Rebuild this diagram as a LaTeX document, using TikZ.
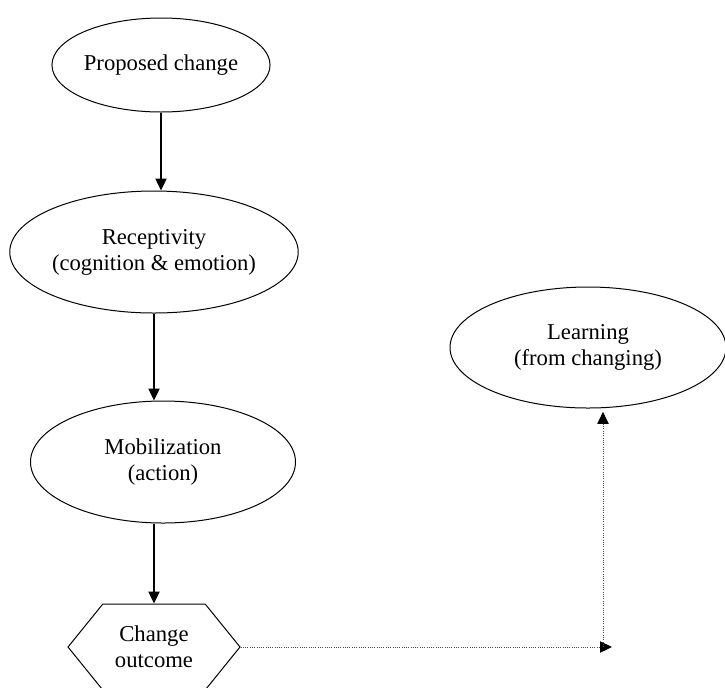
\documentclass[tikz,border=0pt]{standalone}
\usepackage{fontspec}
\setmainfont{Liberation Serif}
\usepackage{tikz}
\usetikzlibrary{positioning,arrows.meta,shapes.geometric,shapes.symbols}

\begin{document}
\begin{tikzpicture}[x=0.75pt,y=-0.75pt,
  stage/.style={draw,ellipse,line width=0.75pt,inner sep=0pt,align=center,font=\fontsize{17}{19.5}\selectfont},
  result/.style={draw,signal,signal to=west and east,signal pointer angle=102,line width=0.75pt,inner sep=0pt,
    minimum width=129pt,minimum height=64.5pt,align=center,font=\fontsize{17}{19.5}\selectfont},
  arr/.style={-{Triangle[length=9pt,width=8.5pt]},line width=0.9pt},
  dotarr/.style={-{Triangle[length=9pt,width=8.5pt,color=black]},densely dotted,line width=0.7pt,draw=black!70}
]
  \useasboundingbox (0,0) rectangle (725,687);
  \node[stage,minimum width=135pt,minimum height=70.5pt] (prop) at (161,65) {Proposed change};
  \node[stage,minimum width=213.75pt,minimum height=91.5pt] (recep) at (154,252) {Receptivity\\(cognition \& emotion)};
  \node[stage,minimum width=198.75pt,minimum height=91.5pt] (mob) at (163,462) {Mobilization\\(action)};
  \node[result] (outcome) at (154,647) {Change\\outcome};
  \node[stage,minimum width=207pt,minimum height=90.75pt] (learn) at (588,347.5) {Learning\\(from changing)};
  \coordinate (turn) at (612,647);
  \coordinate (up) at (603,647);

  \draw[arr] (prop.south) -- (prop.south |- recep.north);
  \draw[arr] (recep.south) -- (recep.south |- mob.north);
  \draw[arr] (outcome.north |- mob.south) -- (outcome.north);
  \draw[dotarr] (outcome.east) -- (turn);
  \draw[dotarr,shorten >=2.5pt] (up) -- (up |- learn.south);
\end{tikzpicture}
\end{document}
